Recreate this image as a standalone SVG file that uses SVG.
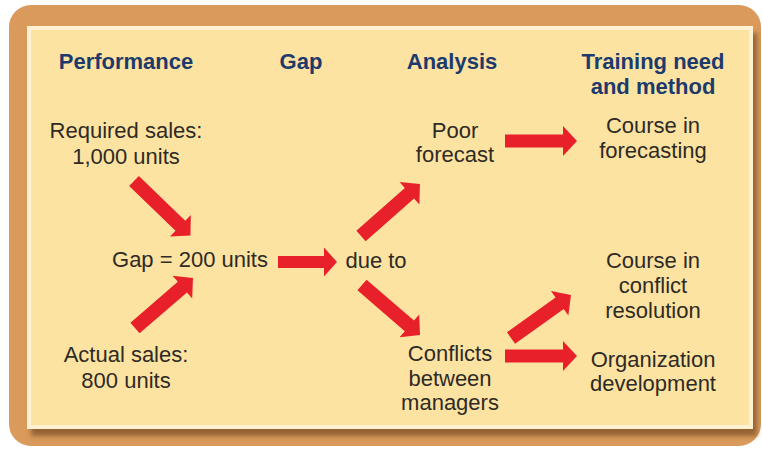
<svg xmlns="http://www.w3.org/2000/svg" width="762" height="449" viewBox="0 0 762 449">
<defs>
<filter id="sh" x="-5%" y="-5%" width="110%" height="110%"><feGaussianBlur stdDeviation="2.5"/></filter>
<style>
.hd{font-family:"Liberation Sans",Arial,sans-serif;font-weight:bold;font-size:22px;fill:#1D3A6C;text-anchor:middle}
.tx{font-family:"Liberation Sans",Arial,sans-serif;font-size:22px;fill:#2E2A25;text-anchor:middle}
.ar{fill:#E8202A}
</style>
</defs>
<g id="background">
<rect x="9" y="5" width="752" height="441" rx="22" fill="#D99A5B"/>
<rect x="31" y="33" width="726" height="403" fill="#7E5028" opacity="0.75" filter="url(#sh)"/>
<rect x="27" y="26" width="726" height="403" fill="#FFF1D2"/>
<rect x="31" y="30" width="718" height="395" fill="#FDE3A1"/>
</g>
<g id="headers">
<text class="hd" x="126" y="69">Performance</text>
<text class="hd" x="301" y="69">Gap</text>
<text class="hd" x="452" y="69">Analysis</text>
<text class="hd" x="653" y="69">Training need</text>
<text class="hd" x="653" y="94">and method</text>
</g>
<g id="required"><text class="tx" x="126" y="138">Required sales:</text><text class="tx" x="126" y="164">1,000 units</text></g>
<g id="actual"><text class="tx" x="126" y="362">Actual sales:</text><text class="tx" x="126" y="388">800 units</text></g>
<g id="gap"><text class="tx" x="190" y="267">Gap = 200 units</text></g>
<g id="dueto"><text class="tx" x="376" y="268">due to</text></g>
<g id="poor"><text class="tx" x="455" y="138">Poor</text><text class="tx" x="455" y="162">forecast</text></g>
<g id="conflicts"><text class="tx" x="450" y="361">Conflicts</text><text class="tx" x="450" y="386">between</text><text class="tx" x="450" y="410">managers</text></g>
<g id="course1"><text class="tx" x="653" y="133">Course  in</text><text class="tx" x="653" y="158">forecasting</text></g>
<g id="course2"><text class="tx" x="653" y="268">Course in</text><text class="tx" x="653" y="293">conflict</text><text class="tx" x="653" y="318">resolution</text></g>
<g id="orgdev"><text class="tx" x="653" y="367">Organization</text><text class="tx" x="653" y="391">development</text></g>
<g id="connectors">
<path class="ar" transform="translate(134,181) rotate(44)" d="M0,-7 L64.5,-7 L64.5,-15 L78.5,0 L64.5,15 L64.5,7 L0,7 Z"/>
<path class="ar" transform="translate(135,328) rotate(-40.8)" d="M0,-7 L62.6,-7 L62.6,-15 L76.6,0 L62.6,15 L62.6,7 L0,7 Z"/>
<path class="ar" transform="translate(278,262)" d="M0,-6 L46,-6 L46,-14.5 L59,0 L46,14.5 L46,6 L0,6 Z"/>
<path class="ar" transform="translate(361,236) rotate(-41.4)" d="M0,-7 L64.6,-7 L64.6,-15 L78.6,0 L64.6,15 L64.6,7 L0,7 Z"/>
<path class="ar" transform="translate(362,285) rotate(40.8)" d="M0,-7 L62.6,-7 L62.6,-15 L76.6,0 L62.6,15 L62.6,7 L0,7 Z"/>
<path class="ar" transform="translate(505,141)" d="M0,-6.5 L58,-6.5 L58,-15 L72,0 L58,15 L58,6.5 L0,6.5 Z"/>
<path class="ar" transform="translate(511,338) rotate(-35.6)" d="M0,-7 L59.8,-7 L59.8,-15 L73.8,0 L59.8,15 L59.8,7 L0,7 Z"/>
<path class="ar" transform="translate(505,356)" d="M0,-6.5 L58,-6.5 L58,-15 L72,0 L58,15 L58,6.5 L0,6.5 Z"/>
</g>
</svg>
